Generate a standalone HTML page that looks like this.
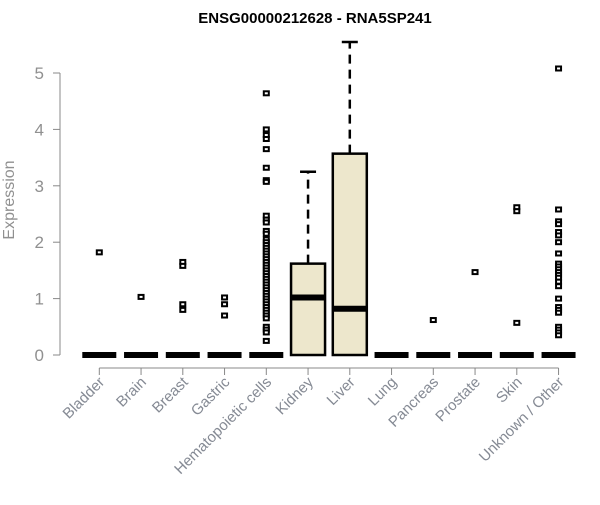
<!DOCTYPE html>
<html><head><meta charset="utf-8"><style>
body{margin:0;background:#fff}
svg{font-family:"Liberation Sans",sans-serif}
</style></head><body>
<svg id="chart" width="600" height="500" xmlns="http://www.w3.org/2000/svg">
<text x="315" y="23" text-anchor="middle" font-size="15" font-weight="bold">ENSG00000212628 - RNA5SP241</text>
<text transform="translate(14,200) rotate(-90)" text-anchor="middle" font-size="16" fill="#909090">Expression</text>
<g id="axes"></g><g id="marks"></g>
</svg>
<script>
const categories=["Bladder","Brain","Breast","Gastric","Hematopoietic cells","Kidney","Liver","Lung","Pancreas","Prostate","Skin","Unknown / Other"];
const q1=[0,0,0,0,0,0,0,0,0,0,0,0];
const medians=[0,0,0,0,0,1.02,0.82,0,0,0,0,0];
const q3=[0,0,0,0,0,1.62,3.57,0,0,0,0,0];
const whiskerHigh=[0,0,0,0,0,3.25,5.55,0,0,0,0,0];
const outliers=[[1.82],[1.03],[1.65,1.58,0.9,0.8],[1.02,0.9,0.7],
[4.64,4.0,3.9,3.83,3.65,3.32,3.1,3.07,2.47,2.4,2.35,2.2,2.15,2.05,2.0,1.95,1.9,1.85,1.8,1.75,1.7,1.65,1.6,1.55,1.5,1.45,1.4,1.35,1.3,1.25,1.2,1.15,1.1,1.05,1.0,0.95,0.9,0.85,0.8,0.75,0.7,0.65,0.5,0.45,0.4,0.25],
[],[],[],[0.62],[1.47],[2.62,2.55,0.57],
[5.08,2.58,2.37,2.32,2.18,2.12,2.0,1.8,1.62,1.57,1.52,1.47,1.42,1.37,1.3,1.22,1.0,0.85,0.8,0.75,0.5,0.45,0.4,0.35]];
const yTicks=[0,1,2,3,4,5];
const NS="http://www.w3.org/2000/svg";
const y=v=>355-v*56.4;
const x=i=>99.3+i*41.75;
const ax=document.getElementById('axes'),mk=document.getElementById('marks');
function el(t,a,p){const e=document.createElementNS(NS,t);for(const k in a)e.setAttribute(k,a[k]);p.appendChild(e);return e;}
let e=el('line',{x1:60,x2:60,y1:y(5),y2:y(0),stroke:'#888'},ax);


yTicks.forEach(t=>{
 let l=el('line',{x1:53,x2:60,y1:y(t),y2:y(t),stroke:'#888'},ax);
 
 
 let tx=el('text',{x:44,y:y(t)+6,'text-anchor':'end','font-size':17,fill:'#909090'},ax);
 tx.textContent=t;
 
 
});
e=el('line',{x1:x(0),x2:x(11),y1:368,y2:368,stroke:'#888'},ax);


categories.forEach((c,i)=>{
 let l=el('line',{x1:x(i),x2:x(i),y1:368,y2:375,stroke:'#888'},ax);
 
 
 let tx=el('text',{transform:`translate(${x(i)+6},383) rotate(-45)`,'text-anchor':'end','font-size':15,fill:'#858a94'},ax);
 tx.textContent=c;
 
 
 const cx=x(i),hw=17;
 if(q3[i]>q1[i]){
  let w=el('line',{x1:cx,x2:cx,y1:y(q3[i]),y2:y(whiskerHigh[i]),stroke:'#000','stroke-width':2.5,'stroke-dasharray':'9,6'},mk);
  
  
  let cap=el('line',{x1:cx-8,x2:cx+8,y1:y(whiskerHigh[i]),y2:y(whiskerHigh[i]),stroke:'#000','stroke-width':2.5},mk);
  
  
  let b=el('rect',{x:cx-hw,y:y(q3[i]),width:hw*2,height:y(q1[i])-y(q3[i]),fill:'#ede7cc',stroke:'#000','stroke-width':2.5},mk);
  
  
 }
 let m=el('line',{x1:cx-hw,x2:cx+hw,y1:y(medians[i]),y2:y(medians[i]),stroke:'#000','stroke-width':6},mk);
 
 
 outliers[i].forEach(v=>{
  let p=el('rect',{x:cx-2.5,y:y(v)-2,width:5,height:4,fill:'#fff',stroke:'#000','stroke-width':2},mk);
  
  
 });
});
</script>
</body></html>
